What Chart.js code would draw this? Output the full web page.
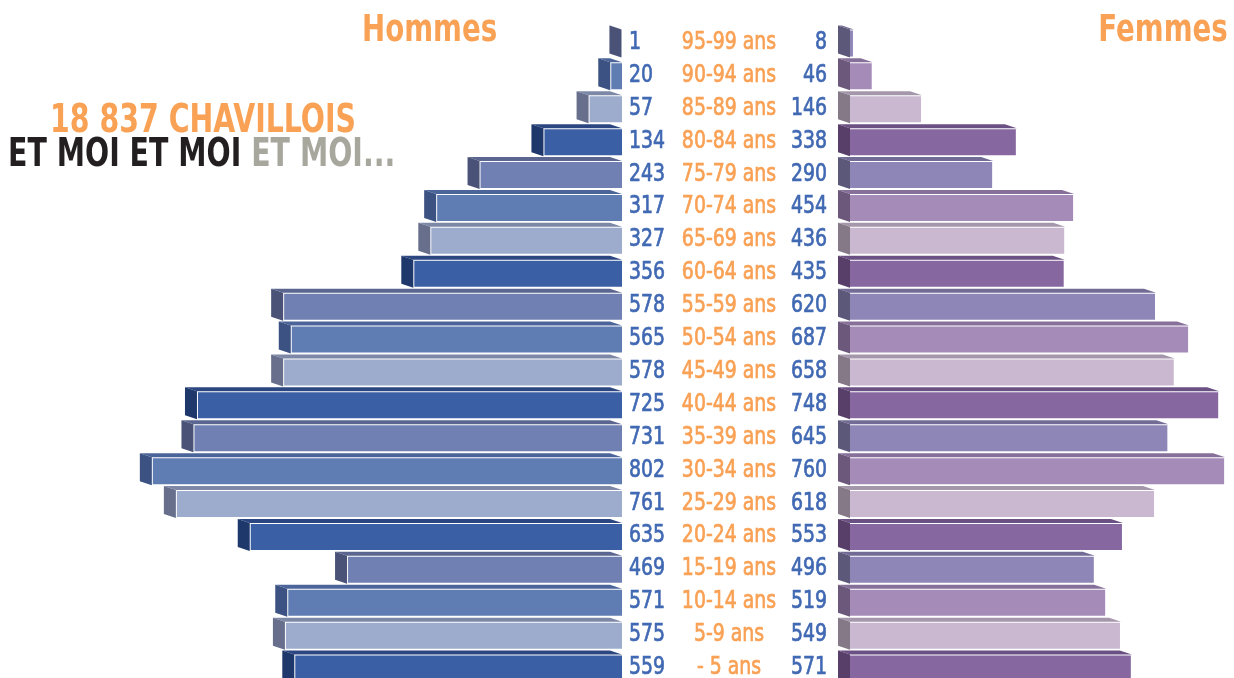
<!DOCTYPE html>
<html>
<head>
<meta charset="utf-8">
<script src="https://cdn.jsdelivr.net/npm/chart.js@4.4.1/dist/chart.umd.min.js"></script>
<style>
  html, body { margin: 0; padding: 0; background: #fff; overflow: hidden; width: 1234px; height: 678px; }
  body { position: relative; font-family: "DejaVu Sans Condensed", "DejaVu Sans", sans-serif; }
  #cHommes { position: absolute; left: 0; top: 0; }
  #cFemmes { position: absolute; left: 830px; top: 0; }
  .titre { position: absolute; font-weight: bold; color: #f9a155; white-space: nowrap; transform: scaleX(0.81); transform-origin: 0 0; }
  #hommes { left: 362px; top: 6px; font-size: 38px; }
  #femmes { right: 6px; top: 6px; font-size: 38px; transform-origin: 100% 0; }
  #total { left: 50px; top: 96px; font-size: 39px; }
  #moi { left: 8px; top: 130px; font-size: 39px; color: #231f20; }
  #moi span { color: #a8a79e; }
</style>
</head>
<body>
<canvas id="cHommes" width="838" height="685"></canvas>
<canvas id="cFemmes" width="404" height="685"></canvas>
<div class="titre" id="hommes">Hommes</div>
<div class="titre" id="femmes">Femmes</div>
<div class="titre" id="total">18 837 CHAVILLOIS</div>
<div class="titre" id="moi">ET MOI ET MOI <span>ET MOI...</span></div>
<script>
// tranches d'âge, du haut vers le bas
var ages = ['95-99 ans', '90-94 ans', '85-89 ans', '80-84 ans', '75-79 ans', '70-74 ans',
    '65-69 ans', '60-64 ans', '55-59 ans', '50-54 ans', '45-49 ans', '40-44 ans',
    '35-39 ans', '30-34 ans', '25-29 ans', '20-24 ans', '15-19 ans', '10-14 ans',
    '5-9 ans', '- 5 ans'];
var hommes = [1, 20, 57, 134, 243, 317, 327, 356, 578, 565, 578, 725, 731, 802, 761, 635, 469, 571, 575, 559];
var femmes = [8, 46, 146, 338, 290, 454, 436, 435, 620, 687, 658, 748, 645, 760, 618, 553, 496, 519, 549, 571];

// couleurs cycliques (compte depuis la tranche du bas)
var bleuFace = ['#3a5fa5', '#9dabcc', '#607db3', '#7080b2'];
var bleuCote = ['#1f386b', '#676f8c', '#3c5282', '#4a5377'];
var bleuDessus = ['#2b4680', '#7d88a6', '#4b6499', '#5b6690'];
var violetFace = ['#8667a0', '#cab8d0', '#a58bb8', '#8d86b6'];
var violetCote = ['#573f69', '#857988', '#6b587a', '#5c5879'];
var violetDessus = ['#6b5083', '#a597ab', '#86709a', '#716b96'];

function cycle(pal) {
    return ages.map(function (a, i) { return pal[(ages.length - 1 - i) % 4]; });
}

var DX = 12, DY = 4;

// faces dessus + côté pour l'effet 3D
var relief = {
    id: 'relief',
    afterDatasetDraw: function (chart, args, opts) {
        var ctx = chart.ctx;
        var meta = args.meta;
        meta.data.forEach(function (bar, i) {
            var x0 = Math.min(bar.x, bar.base), x1 = Math.max(bar.x, bar.base);
            var top = bar.y - bar.height / 2, bot = bar.y + bar.height / 2;
            ctx.save();
            ctx.fillStyle = opts.dessus[i];
            ctx.beginPath();
            ctx.moveTo(x0, top);
            ctx.lineTo(x0 - DX, top - DY);
            ctx.lineTo(x1 - DX, top - DY);
            ctx.lineTo(x1, top);
            ctx.closePath();
            ctx.fill();
            ctx.fillStyle = opts.cote[i];
            ctx.beginPath();
            ctx.moveTo(x0, top);
            ctx.lineTo(x0 - DX, top - DY);
            ctx.lineTo(x0 - DX, bot - DY);
            ctx.lineTo(x0, bot);
            ctx.closePath();
            ctx.fill();
            ctx.restore();
        });
    }
};

// texte resserré (police étroite absente)
function texte(ctx, s, x, y, align) {
    var k = 0.84;
    ctx.save();
    ctx.translate(x, y);
    ctx.scale(k, 1);
    ctx.textAlign = align;
    ctx.strokeStyle = ctx.fillStyle;
    ctx.lineWidth = 0.7;
    ctx.fillText(s, 0, 0);
    ctx.strokeText(s, 0, 0);
    ctx.restore();
}

// valeurs et tranches d'âge au centre
var etiquettes = {
    id: 'etiquettes',
    afterDraw: function (chart) {
        var ctx = chart.ctx;
        var y = chart.scales.y;
        ctx.save();
        ctx.font = '25px "DejaVu Sans Condensed", "DejaVu Sans", sans-serif';
        ctx.textBaseline = 'middle';
        ages.forEach(function (a, i) {
            var py = y.getPixelForValue(i) - 1;
            ctx.fillStyle = '#4169b3';
            texte(ctx, String(hommes[i]), 629, py, 'left');
            texte(ctx, String(femmes[i]), 827, py, 'right');
            ctx.fillStyle = '#f9a155';
            texte(ctx, a, 729, py, 'center');
        });
        ctx.restore();
    }
};

new Chart(document.getElementById('cHommes'), {
    type: 'bar',
    data: {
        labels: ages,
        datasets: [{
            label: 'Hommes',
            data: hommes,
            backgroundColor: cycle(bleuFace),
            borderColor: 'rgba(255,255,255,0.35)',
            borderWidth: 1,
            barPercentage: 0.85,
            categoryPercentage: 1
        }]
    },
    options: {
        indexAxis: 'y',
        responsive: false,
        animation: false,
        layout: { padding: { top: 27, right: 216, left: 0, bottom: 0 } },
        scales: {
            x: { display: false, min: 0, max: 1061, reverse: true },
            y: { display: false }
        },
        plugins: {
            legend: { display: false },
            tooltip: { enabled: false },
            relief: { cote: cycle(bleuCote), dessus: cycle(bleuDessus) }
        }
    },
    plugins: [relief, etiquettes]
});

new Chart(document.getElementById('cFemmes'), {
    type: 'bar',
    data: {
        labels: ages,
        datasets: [{
            label: 'Femmes',
            data: femmes,
            backgroundColor: cycle(violetFace),
            borderColor: 'rgba(255,255,255,0.35)',
            borderWidth: 1,
            barPercentage: 0.85,
            categoryPercentage: 1
        }]
    },
    options: {
        indexAxis: 'y',
        responsive: false,
        animation: false,
        layout: { padding: { top: 27, left: 20, right: 0, bottom: 0 } },
        scales: {
            x: { display: false, min: 0, max: 778 },
            y: { display: false }
        },
        plugins: {
            legend: { display: false },
            tooltip: { enabled: false },
            relief: { cote: cycle(violetCote), dessus: cycle(violetDessus) }
        }
    },
    plugins: [relief]
});
</script>
</body>
</html>
